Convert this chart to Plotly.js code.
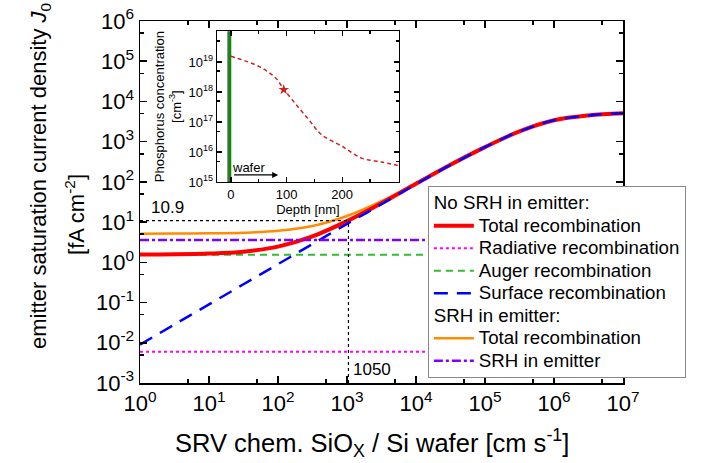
<!DOCTYPE html>
<html><head><meta charset="utf-8">
<script src="https://cdn.plot.ly/plotly-3.0.1.min.js"></script>
<style>html,body{margin:0;padding:0;background:#fff}#chart{width:706px;height:463px}</style>
</head><body><div id="chart"></div>
<script>
// ---- main chart data ----
const srv = [1, 3.16, 10, 31.6, 100, 316, 1000, 3160, 1e4, 3.16e4, 1e5, 3.16e5, 1e6, 3.16e6, 1e7];
const surfaceRec = [0.009, 0.0285, 0.09, 0.285, 0.9, 2.85, 9.0, 28, 88, 265, 730, 1800, 3400, 4500, 5070];
const totalNoSRH = [1.56, 1.58, 1.65, 1.84, 2.46, 4.41, 10.56, 29.6, 89.6, 266.6, 731.6, 1801.6, 3401.6, 4501.6, 5071.6];
const totalSRH = [5.16, 5.18, 5.25, 5.44, 6.06, 8.0, 14.2, 33.2, 93.2, 270, 735, 1805, 3405, 4505, 5075];
const srvEnds = [1, 1e7];
const augerRec = [1.55, 1.55];
const radiativeRec = [0.006, 0.006];
const srhEmitter = [3.6, 3.6];
const markSRV = 1050;
const markJ0 = 10.9;

// ---- inset data ----
const depth = [0, 50, 80, 95, 115, 140, 163, 200, 235, 270, 300];
const phosConc = [1.55e19, 7.2e18, 3.0e18, 1.25e18, 4.3e17, 1.2e17, 3.8e16, 1.55e16, 6.3e15, 4.7e15, 3.6e15];
const markerDepth = [95];
const markerConc = [1.2e18];
const oxideDepth = [-2, -2];
const concEnds = [1e15, 1.1e20];

// ---- ticks ----
const xTickVals = [1, 10, 100, 1e3, 1e4, 1e5, 1e6, 1e7];
const xTickText = ['10<sup>0</sup>','10<sup>1</sup>','10<sup>2</sup>','10<sup>3</sup>','10<sup>4</sup>','10<sup>5</sup>','10<sup>6</sup>','10<sup>7</sup>'];
const xMinor = [5, 50, 500, 5e3, 5e4, 5e5, 5e6];
const yTickVals = [1e-3, 1e-2, 0.1, 1, 10, 100, 1e3, 1e4, 1e5, 1e6];
const yTickText = ['10<sup>-3</sup>','10<sup>-2</sup>','10<sup>-1</sup>','10<sup>0</sup>','10<sup>1</sup>','10<sup>2</sup>','10<sup>3</sup>','10<sup>4</sup>','10<sup>5</sup>','10<sup>6</sup>'];
const yMinor = [5e-3, 5e-2, 0.5, 5, 50, 500, 5e3, 5e4, 5e5];
const inXTickVals = [0, 100, 200];
const inXTickText = ['0', '100', '200'];
const inXMinor = [50, 150, 250];
const inYTickVals = [1e15, 1e16, 1e17, 1e18, 1e19];
const inYTickText = ['10<sup>15</sup>','10<sup>16</sup>','10<sup>17</sup>','10<sup>18</sup>','10<sup>19</sup>'];
const inYMinor = [5e15, 5e16, 5e17, 5e18, 5e19];

const FONT = 'Arial, "Liberation Sans", sans-serif';
const big = t => '<span style="font-size:18.7px">' + t + '</span>';

const traces = [
  {x: srv, y: totalSRH, mode: 'lines', name: big('Total recombination'), line: {color: '#ff8c00', width: 2.5, shape: 'spline'},
   legendgroup: 'b', legendgrouptitle: {text: big('SRH in emitter:')}, legendrank: 5},
  {x: srvEnds, y: radiativeRec, mode: 'lines', name: big('Radiative recombination'), line: {color: '#ff00ff', width: 2, dash: 'dot'},
   legendgroup: 'a', legendrank: 2},
  {x: srvEnds, y: augerRec, mode: 'lines', name: big('Auger recombination'), line: {color: '#33bb33', width: 2, dash: '7px,5px'},
   legendgroup: 'a', legendrank: 3},
  {x: srv, y: totalNoSRH, mode: 'lines', name: big('Total recombination'), line: {color: '#ff0000', width: 4, shape: 'spline'},
   legendgroup: 'a', legendgrouptitle: {text: big('No SRH in emitter:')}, legendrank: 1},
  {x: srv, y: surfaceRec, mode: 'lines', name: big('Surface recombination'), line: {color: '#0000ff', width: 2.5, dash: '14px,9px', shape: 'spline'},
   legendgroup: 'a', legendrank: 4},
  {x: srvEnds, y: srhEmitter, mode: 'lines', name: big('SRH in emitter'), line: {color: '#8000ff', width: 2.5, dash: 'dashdot'},
   legendgroup: 'b', legendrank: 6},
  {x: [srvEnds[0], markSRV], y: [markJ0, markJ0], mode: 'lines', showlegend: false, line: {color: '#000', width: 1.2, dash: 'dot'}},
  {x: [markSRV, markSRV], y: [1e-3, markJ0], mode: 'lines', showlegend: false, line: {color: '#000', width: 1.2, dash: 'dot'}},
  // inset
  {x: [oxideDepth[0]-3, oxideDepth[1]-3], y: concEnds, xaxis: 'x2', yaxis: 'y2', mode: 'lines', showlegend: false, line: {color: '#555', width: 1.5}},
  {x: oxideDepth, y: concEnds, xaxis: 'x2', yaxis: 'y2', mode: 'lines', showlegend: false, line: {color: '#118811', width: 3}},
  {x: depth, y: phosConc, xaxis: 'x2', yaxis: 'y2', mode: 'lines', showlegend: false, line: {color: '#cc2222', width: 1.5, dash: '4px,3px', shape: 'spline'}},
  {x: markerDepth, y: markerConc, xaxis: 'x2', yaxis: 'y2', mode: 'markers', showlegend: false, marker: {color: '#cc2222', size: 8, symbol: 'star'}}
];

const axCommon = {showline: true, linecolor: '#000', mirror: 'ticks', ticks: 'inside', tickcolor: '#000', showgrid: false, zeroline: false};

const layout = {
  width: 706, height: 463,
  margin: {l: 140, r: 83, t: 21, b: 80, autoexpand: false},
  paper_bgcolor: '#fff', plot_bgcolor: '#fff',
  font: {family: FONT, color: '#000'},
  showlegend: true,
  legend: {x: 0.596, y: 0.544, xanchor: 'left', yanchor: 'top', bgcolor: '#fff', bordercolor: '#888', borderwidth: 1,
           font: {size: 15, family: FONT}, traceorder: 'grouped', tracegroupgap: 0, itemwidth: 40,
           grouptitlefont: {size: 15, family: FONT}},
  xaxis: Object.assign({}, axCommon, {
    type: 'log', range: [0, 7], tickmode: 'array', tickvals: xTickVals, ticktext: xTickText,
    ticklen: 7, tickwidth: 1.5, linewidth: 1.5, tickfont: {size: 22},
    minor: {tickmode: 'array', tickvals: xMinor, ticks: 'inside', ticklen: 4, tickwidth: 1.5, tickcolor: '#000'}
  }),
  yaxis: Object.assign({}, axCommon, {
    type: 'log', range: [-3, 6], tickmode: 'array', tickvals: yTickVals, ticktext: yTickText,
    ticklen: 7, tickwidth: 1.5, linewidth: 1.5, tickfont: {size: 22},
    minor: {tickmode: 'array', tickvals: yMinor, ticks: 'inside', ticklen: 4, tickwidth: 1.5, tickcolor: '#000'}
  }),
  xaxis2: Object.assign({}, axCommon, {
    anchor: 'y2', domain: [0.1594, 0.536], range: [-25, 302], tickmode: 'array', tickvals: inXTickVals, ticktext: inXTickText,
    ticklen: 5, tickwidth: 1.2, linewidth: 1.2, tickfont: {size: 13},
    minor: {tickmode: 'array', tickvals: inXMinor, ticks: 'inside', ticklen: 3, tickwidth: 1.2, tickcolor: '#000'},
    title: {text: 'Depth [nm]', font: {size: 13}, standoff: 2}
  }),
  yaxis2: Object.assign({}, axCommon, {
    anchor: 'x2', domain: [0.555, 0.972], type: 'log', range: [15, 20.03], tickmode: 'array', tickvals: inYTickVals, ticktext: inYTickText,
    ticklen: 5, tickwidth: 1.2, linewidth: 1.2, tickfont: {size: 13},
    minor: {tickmode: 'array', tickvals: inYMinor, ticks: 'inside', ticklen: 3, tickwidth: 1.2, tickcolor: '#000'},
    title: {text: 'Phosphorus concentration<br>[cm<sup>-3</sup>]', font: {size: 13}, standoff: 4}
  }),
  annotations: [
    {xref: 'paper', yref: 'paper', x: 0.480, y: -0.166, text: 'SRV chem. SiO<sub>X</sub> / Si wafer [cm s<sup>-1</sup>]',
     showarrow: false, font: {size: 25.5}, xanchor: 'center', yanchor: 'middle'},
    {xref: 'paper', yref: 'paper', x: -0.2070, y: 0.572, text: 'emitter saturation current density <i>J</i><sub>0</sub>', textangle: -90,
     showarrow: false, font: {size: 22}, xanchor: 'center', yanchor: 'middle'},
    {xref: 'paper', yref: 'paper', x: -0.1346, y: 0.467, text: '[fA cm<sup>-2</sup>]', textangle: -90,
     showarrow: false, font: {size: 22}, xanchor: 'center', yanchor: 'middle'},
    {xref: 'x', yref: 'y', x: Math.log10(2.5), y: Math.log10(markJ0), text: String(markJ0), showarrow: false,
     font: {size: 17}, xanchor: 'center', yanchor: 'bottom', yshift: 2},
    {xref: 'x', yref: 'y', x: Math.log10(markSRV), y: -3, text: String(markSRV), showarrow: false,
     font: {size: 17}, xanchor: 'left', yanchor: 'bottom', xshift: 3, yshift: 2},
    {xref: 'x2', yref: 'y2', x: 85, y: 15.24, ax: 3, ay: 15.24, axref: 'x2', ayref: 'y2', text: '', showarrow: true,
     arrowhead: 2, arrowsize: 1, arrowwidth: 1.2, arrowcolor: '#000'},
    {xref: 'x2', yref: 'y2', x: 31, y: 15.47, text: 'wafer', showarrow: false, font: {size: 13}, xanchor: 'center', yanchor: 'middle'}
  ]
};

Plotly.newPlot('chart', traces, layout, {staticPlot: true, displayModeBar: false});
</script>
</body></html>
